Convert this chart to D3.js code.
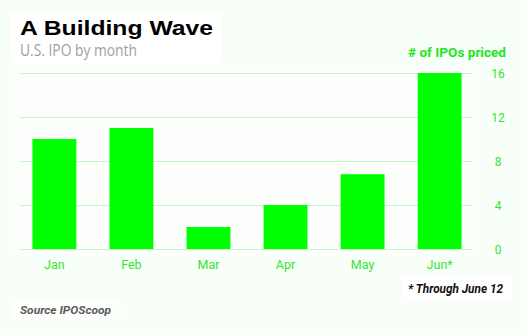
<!DOCTYPE html>
<html>
<head>
<meta charset="utf-8">
<script src="https://cdn.jsdelivr.net/npm/d3@7"></script>
<style>
  html, body { margin: 0; padding: 0; background: #f8fff8; }
  svg { display: block; }
</style>
</head>
<body>
<svg id="chart" width="527" height="335"></svg>
<script>
// Monthly U.S. IPO counts
const months = ["Jan", "Feb", "Mar", "Apr", "May", "Jun*"];
const ipoCounts = [10, 11, 2, 4, 6.8, 16];
const yTicks = [0, 4, 8, 12, 16];

const W = 527, H = 335;
const svg = d3.select("#chart");

svg.append("rect").attr("width", W).attr("height", H).attr("fill", "#f8fff8");

// white panels behind the title block, the plot and the footnote
svg.append("rect").attr("x", 10).attr("y", 13).attr("width", 212).attr("height", 50).attr("fill", "#ffffff");
svg.append("rect").attr("x", 14).attr("y", 66).attr("width", 464).attr("height", 190).attr("fill", "#fdfffd");
svg.append("rect").attr("x", 402).attr("y", 276).attr("width", 110).attr("height", 26).attr("fill", "#ffffff");
svg.append("rect").attr("x", 12).attr("y", 300).attr("width", 110).attr("height", 20).attr("fill", "#fcfffc");

const x = d3.scaleBand()
  .domain(months)
  .range([17, 477])
  .paddingInner(0.43)
  .paddingOuter(0.2);

const y = d3.scaleLinear().domain([0, 16]).range([249, 73]);

// horizontal gridlines
svg.append("g")
  .selectAll("line")
  .data(yTicks)
  .join("line")
  .attr("x1", 20).attr("x2", 472)
  .attr("y1", d => y(d) + 0.5).attr("y2", d => y(d) + 0.5)
  .attr("stroke", "#c4f7c4")
  .attr("stroke-width", 1.2);

// bars
svg.append("g")
  .selectAll("rect")
  .data(months)
  .join("rect")
  .attr("x", d => x(d))
  .attr("width", x.bandwidth())
  .attr("y", (d, i) => y(ipoCounts[i]))
  .attr("height", (d, i) => y(0) - y(ipoCounts[i]))
  .attr("fill", "#00ff00");

// right-hand value axis
const yAxis = d3.axisRight(y).tickValues(yTicks).tickSize(0).tickPadding(0);
const ga = svg.append("g").attr("transform", "translate(498,0)").call(yAxis);
ga.select(".domain").remove();
ga.selectAll("text")
  .attr("text-anchor", "middle")
  .attr("dy", "0.35em")
  .attr("fill", "#33e633")
  .style("font-family", "Roboto, 'Liberation Sans', sans-serif")
  .style("font-size", "12px");

// month axis
const xAxis = d3.axisBottom(x).tickSize(0).tickPadding(0);
const gx = svg.append("g").attr("transform", "translate(0,269)").call(xAxis);
gx.select(".domain").remove();
gx.selectAll("text")
  .attr("y", 0).attr("dy", 0)
  .attr("fill", "#33e633")
  .style("font-family", "Roboto, 'Liberation Sans', sans-serif")
  .style("font-size", "12.5px");

// titles
svg.append("text")
  .attr("x", 20).attr("y", 35)
  .attr("textLength", 193).attr("lengthAdjust", "spacingAndGlyphs")
  .style("font-family", "'Liberation Sans', Arial, sans-serif")
  .style("font-weight", "bold")
  .style("font-size", "20.5px")
  .attr("fill", "#000")
  .text("A Building Wave");

svg.append("text")
  .attr("x", 20).attr("y", 56)
  .attr("textLength", 117).attr("lengthAdjust", "spacingAndGlyphs")
  .style("font-family", "'Open Sans', sans-serif")
  .style("font-size", "15.5px")
  .attr("fill", "#a0a0a0")
  .text("U.S. IPO by month");

svg.append("text")
  .attr("x", 506).attr("y", 57)
  .attr("text-anchor", "end")
  .attr("textLength", 98).attr("lengthAdjust", "spacingAndGlyphs")
  .style("font-family", "Roboto, 'Liberation Sans', sans-serif")
  .style("font-weight", "bold")
  .style("font-size", "12.5px")
  .attr("fill", "#22e622")
  .text("# of IPOs priced");

svg.append("text")
  .attr("x", 408).attr("y", 293)
  .attr("textLength", 95).attr("lengthAdjust", "spacingAndGlyphs")
  .style("font-family", "Roboto, 'Liberation Sans', sans-serif")
  .style("font-weight", "bold")
  .style("font-style", "italic")
  .style("font-size", "13.5px")
  .attr("fill", "#111")
  .text("* Through June 12");

svg.append("text")
  .attr("x", 20).attr("y", 314)
  .attr("textLength", 91).attr("lengthAdjust", "spacingAndGlyphs")
  .style("font-family", "Roboto, 'Liberation Sans', sans-serif")
  .style("font-weight", "bold")
  .style("font-style", "italic")
  .style("font-size", "11.5px")
  .attr("fill", "#5a5a5a")
  .text("Source IPOScoop");
</script>
</body>
</html>
